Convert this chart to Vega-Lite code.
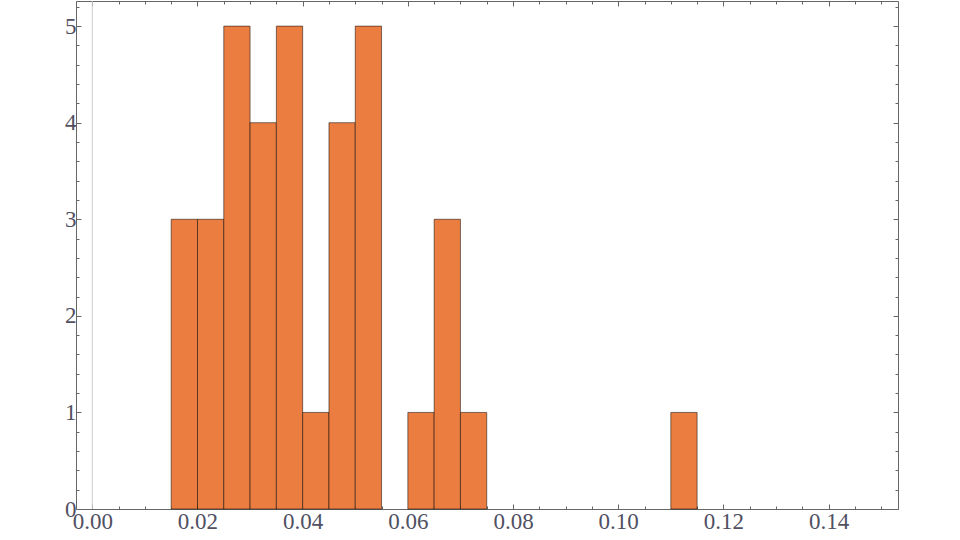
{
  "$schema": "https://vega.github.io/schema/vega-lite/v6.json",
  "width": 822,
  "height": 508,
  "autosize": {"type": "none"},
  "padding": {"left": 76, "top": 1, "right": 62, "bottom": 31},
  "background": "white",
  "config": {
    "view": {"stroke": null},
    "axis": {
      "domainColor": "#666",
      "domainWidth": 1,
      "tickColor": "#666",
      "tickWidth": 1,
      "grid": false,
      "title": null,
      "labelFont": "Liberation Serif",
      "labelFontSize": 23,
      "labelColor": "#505062",
      "labelOverlap": false,
      "labelFlush": false
    }
  },
  "datasets": {
    "bins": [
      {"start": 0.015, "end": 0.020, "count": 3},
      {"start": 0.020, "end": 0.025, "count": 3},
      {"start": 0.025, "end": 0.030, "count": 5},
      {"start": 0.030, "end": 0.035, "count": 4},
      {"start": 0.035, "end": 0.040, "count": 5},
      {"start": 0.040, "end": 0.045, "count": 1},
      {"start": 0.045, "end": 0.050, "count": 4},
      {"start": 0.050, "end": 0.055, "count": 5},
      {"start": 0.060, "end": 0.065, "count": 1},
      {"start": 0.065, "end": 0.070, "count": 3},
      {"start": 0.070, "end": 0.075, "count": 1},
      {"start": 0.110, "end": 0.115, "count": 1}
    ],
    "zero": [{"x0": 0}]
  },
  "resolve": {"axis": {"x": "independent", "y": "independent"}},
  "layer": [
    {
      "data": {"name": "zero"},
      "mark": {"type": "rule", "color": "#cccccc", "strokeWidth": 1},
      "encoding": {
        "x": {"field": "x0", "type": "quantitative", "scale": {"domain": [-0.0031, 0.1532], "nice": false, "zero": false}, "axis": null}
      }
    },
    {
      "data": {"name": "bins"},
      "mark": {"type": "rect", "fill": "#EC7D40", "stroke": "black", "strokeOpacity": 0.5, "strokeWidth": 1},
      "encoding": {
        "x": {
          "field": "start", "type": "quantitative",
          "scale": {"domain": [-0.0031, 0.1532], "nice": false, "zero": false},
          "axis": {
            "orient": "bottom",
            "values": [0, 0.005, 0.01, 0.015, 0.02, 0.025, 0.03, 0.035, 0.04, 0.045, 0.05, 0.055, 0.06, 0.065, 0.07, 0.075, 0.08, 0.085, 0.09, 0.095, 0.1, 0.105, 0.11, 0.115, 0.12, 0.125, 0.13, 0.135, 0.14, 0.145, 0.15],
            "tickSize": {"condition": {"test": "round(datum.value*1000) % 20 == 0", "value": -5}, "value": -3},
            "labelExpr": "round(datum.value*1000) % 20 == 0 ? format(datum.value, '.2f') : ''",
            "labelPadding": 6
          }
        },
        "x2": {"field": "end"},
        "y": {
          "field": "count", "type": "quantitative",
          "scale": {"domain": [0, 5.26], "nice": false},
          "axis": {
            "orient": "left",
            "values": [0, 0.2, 0.4, 0.6, 0.8, 1, 1.2, 1.4, 1.6, 1.8, 2, 2.2, 2.4, 2.6, 2.8, 3, 3.2, 3.4, 3.6, 3.8, 4, 4.2, 4.4, 4.6, 4.8, 5, 5.2],
            "tickSize": {"condition": {"test": "round(datum.value*10) % 10 == 0", "value": -5}, "value": -3},
            "labelExpr": "round(datum.value*10) % 10 == 0 ? format(datum.value, 'd') : ''",
            "labelPadding": 5
          }
        },
        "y2": {"datum": 0}
      }
    },
    {
      "data": {"name": "bins"},
      "mark": {"type": "rect", "opacity": 0},
      "encoding": {
        "x": {
          "field": "start", "type": "quantitative",
          "scale": {"domain": [-0.0031, 0.1532], "nice": false, "zero": false},
          "axis": {
            "orient": "top",
            "values": [0, 0.005, 0.01, 0.015, 0.02, 0.025, 0.03, 0.035, 0.04, 0.045, 0.05, 0.055, 0.06, 0.065, 0.07, 0.075, 0.08, 0.085, 0.09, 0.095, 0.1, 0.105, 0.11, 0.115, 0.12, 0.125, 0.13, 0.135, 0.14, 0.145, 0.15],
            "tickSize": {"condition": {"test": "round(datum.value*1000) % 20 == 0", "value": -5}, "value": -3},
            "labels": false
          }
        },
        "x2": {"field": "end"},
        "y": {
          "field": "count", "type": "quantitative",
          "scale": {"domain": [0, 5.26], "nice": false},
          "axis": {
            "orient": "right",
            "values": [0, 0.2, 0.4, 0.6, 0.8, 1, 1.2, 1.4, 1.6, 1.8, 2, 2.2, 2.4, 2.6, 2.8, 3, 3.2, 3.4, 3.6, 3.8, 4, 4.2, 4.4, 4.6, 4.8, 5, 5.2],
            "tickSize": {"condition": {"test": "round(datum.value*10) % 10 == 0", "value": -5}, "value": -3},
            "labels": false
          }
        },
        "y2": {"datum": 0}
      }
    }
  ]
}
